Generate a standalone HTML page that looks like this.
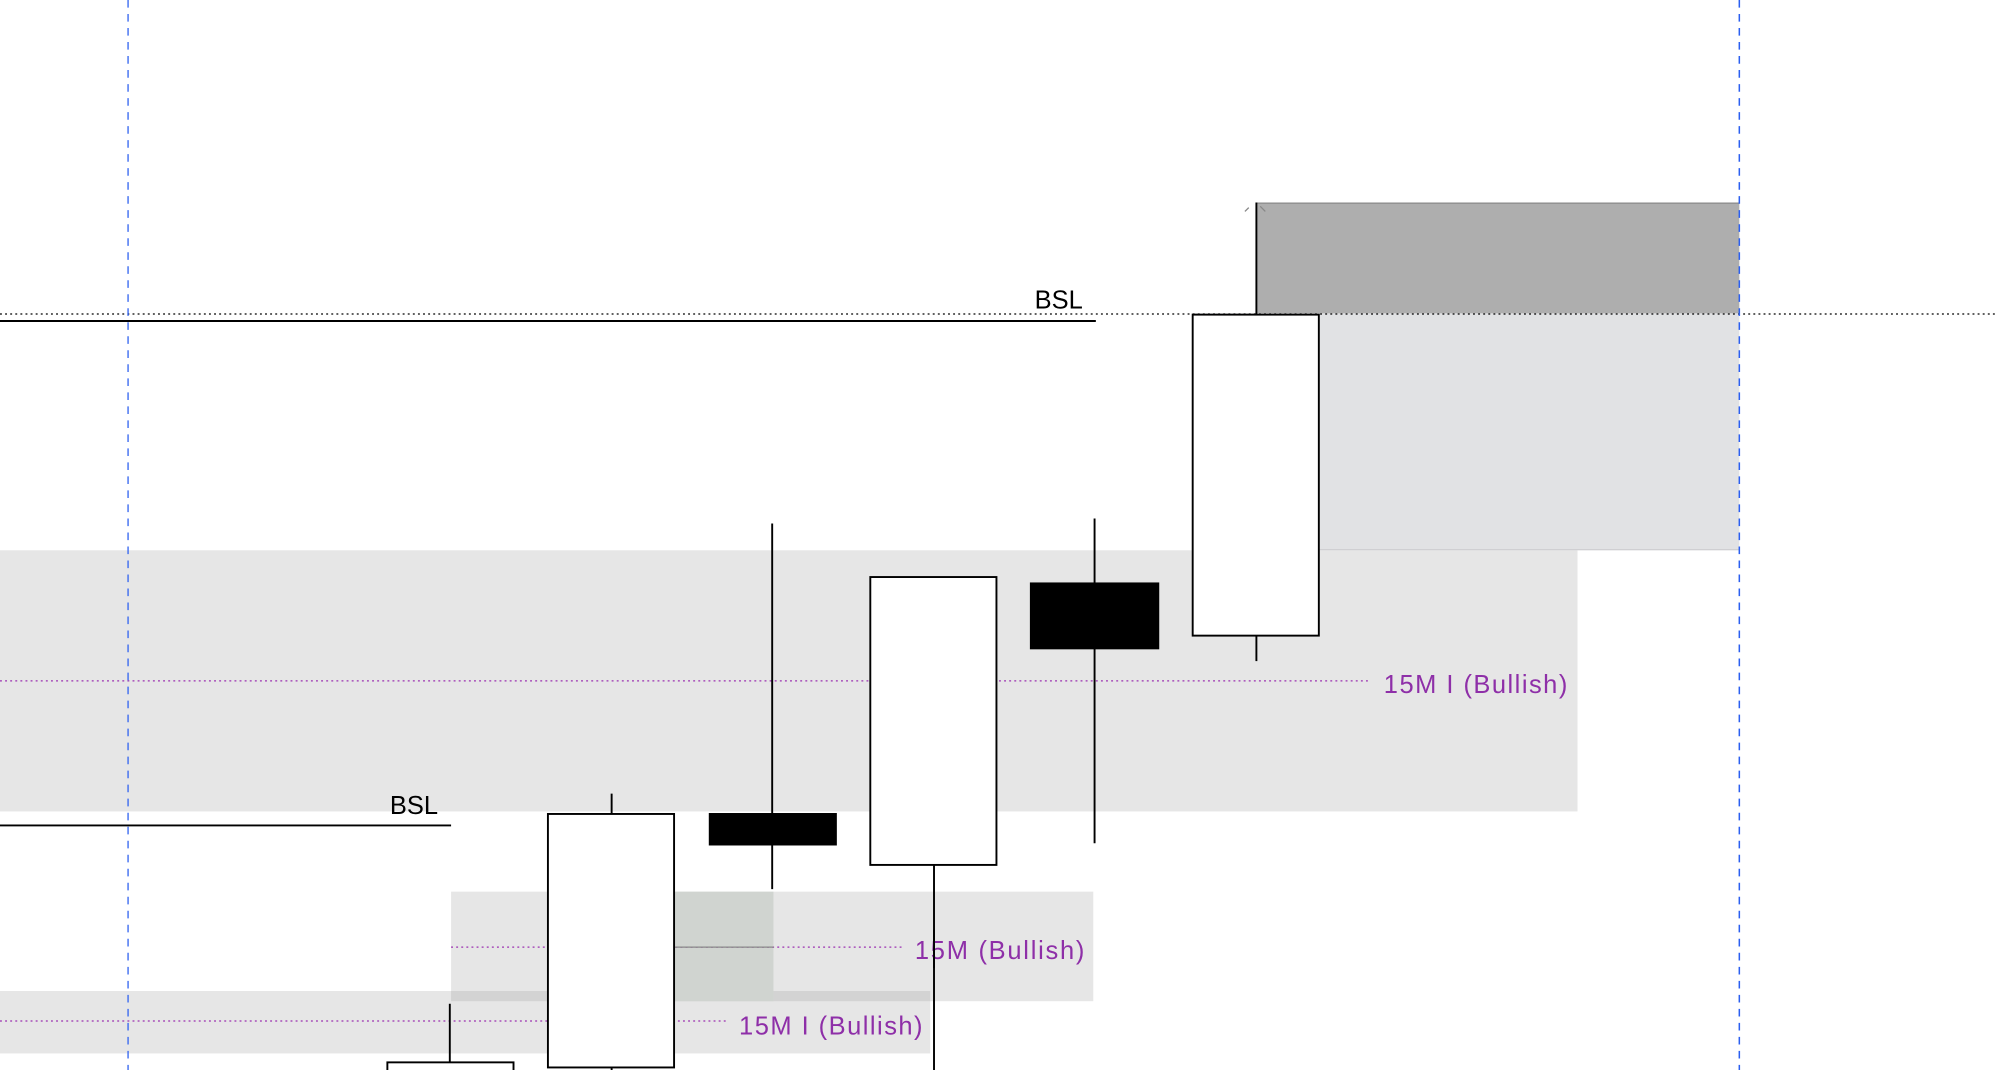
<!DOCTYPE html>
<html><head><meta charset="utf-8"><style>html,body{margin:0;padding:0;background:#fff;overflow:hidden}svg{display:block}</style></head>
<body>
<svg width="1998" height="1070" viewBox="0 0 1568 840" preserveAspectRatio="none" xmlns="http://www.w3.org/2000/svg" font-family="Liberation Sans, sans-serif">
<rect x="0" y="0" width="1568" height="840" fill="#fff"/>
<!-- zones -->
<rect x="0" y="432" width="1238" height="205" fill="#e6e6e6"/>
<rect x="936" y="246" width="429" height="186" fill="#e1e2e4"/>
<line x1="1035" y1="431.5" x2="1365" y2="431.5" stroke="#cfcfd2" stroke-width="1"/>
<rect x="986" y="159" width="379" height="87" fill="#aeaeae"/>
<line x1="986" y1="159.5" x2="1365" y2="159.5" stroke="#888" stroke-width="1"/>
<rect x="354" y="700" width="504" height="86" fill="#e6e6e6"/>
<rect x="0" y="778" width="730" height="49" fill="#e6e6e6"/>
<rect x="354" y="778" width="376" height="8" fill="#d3d3d3"/>
<rect x="529" y="700" width="78" height="86" fill="#d0d4d0"/>
<!-- dotted lines -->
<line x1="0" y1="246.5" x2="1568" y2="246.5" stroke="#000" stroke-width="1" stroke-dasharray="1.5,2.5"/>
<line x1="0" y1="534.5" x2="1076" y2="534.5" stroke="#9b30b0" stroke-width="1" stroke-dasharray="1.5,2.5"/>
<line x1="354" y1="743.5" x2="708" y2="743.5" stroke="#9b30b0" stroke-width="1" stroke-dasharray="1.5,2.5"/>
<line x1="529" y1="743.5" x2="607" y2="743.5" stroke="#888" stroke-width="1"/>
<line x1="0" y1="801.5" x2="570" y2="801.5" stroke="#9b30b0" stroke-width="1" stroke-dasharray="1.5,2.5"/>
<!-- BSL lines -->
<line x1="0" y1="252" x2="860" y2="252" stroke="#000" stroke-width="1.5"/>
<line x1="0" y1="648" x2="354" y2="648" stroke="#000" stroke-width="1.5"/>
<!-- blue dashed verticals -->
<line x1="100.5" y1="0" x2="100.5" y2="840" stroke="#2b5ff0" stroke-width="1" stroke-dasharray="6,5"/>
<line x1="1365" y1="0" x2="1365" y2="840" stroke="#2b5ff0" stroke-width="1.2" stroke-dasharray="6,5"/>
<!-- candles -->
<g stroke="#000" stroke-width="1.5">
<line x1="986" y1="159" x2="986" y2="247"/>
<line x1="986" y1="499" x2="986" y2="519"/>
<rect x="936" y="247" width="99" height="252" fill="#fff"/>
<line x1="859" y1="407" x2="859" y2="662"/>
<rect x="809" y="458" width="100" height="51" fill="#000"/>
<line x1="733" y1="679" x2="733" y2="840"/>
<rect x="683" y="453" width="99" height="226" fill="#fff"/>
<line x1="606" y1="411" x2="606" y2="698"/>
<rect x="557" y="639" width="99" height="24" fill="#000"/>
<line x1="480" y1="623" x2="480" y2="840"/>
<rect x="430" y="639" width="99" height="199" fill="#fff"/>
<line x1="353" y1="788" x2="353" y2="834"/>
<rect x="304" y="834" width="99" height="20" fill="#fff"/>
</g>
<path d="M977 166 L980 163 M989 162 L993 166" stroke="#888" stroke-width="1"/>
<!-- labels -->
<text x="812" y="242" font-size="20" fill="#000">BSL</text>
<text x="306" y="639" font-size="20" fill="#000">BSL</text>
<text x="1086" y="544" font-size="20" fill="#8e2fa8" textLength="144">15M I (Bullish)</text>
<text x="718" y="753" font-size="20" fill="#8e2fa8" textLength="133">15M (Bullish)</text>
<text x="580" y="812" font-size="20" fill="#8e2fa8" textLength="144">15M I (Bullish)</text>
<line x1="733" y1="730" x2="733" y2="760" stroke="#000" stroke-width="1.5"/>
</svg>
</body></html>
